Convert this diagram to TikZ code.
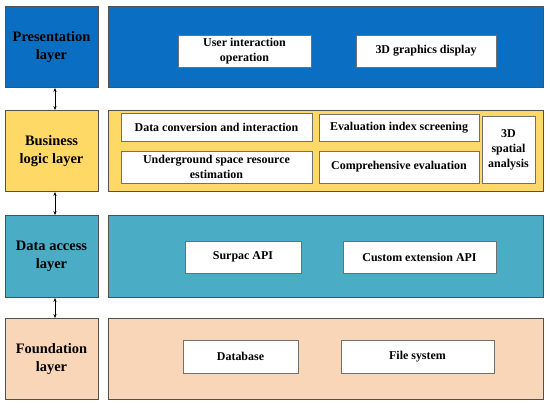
\documentclass[tikz,border=0pt]{standalone}
\usepackage{fontspec}
\setmainfont{Liberation Serif}
\usetikzlibrary{arrows.meta}
\definecolor{presblue}{HTML}{0A6FC2}
\definecolor{busyellow}{HTML}{FFD966}
\definecolor{datateal}{HTML}{4BACC6}
\definecolor{foundpeach}{HTML}{FAD6B9}
\definecolor{edgegray}{HTML}{505050}
\definecolor{inneredge}{HTML}{707070}
\begin{document}
\begin{tikzpicture}[x=1bp,y=-1bp,
  layerbox/.style={draw=edgegray, line width=0.9bp, inner sep=0pt, align=center,
    font=\fontsize{14.5}{18}\selectfont\bfseries},
  bandbox/.style={draw=edgegray, line width=0.9bp, inner sep=0pt},
  itembox/.style={draw=inneredge, fill=white, line width=0.9bp, inner sep=0pt, align=center,
    font=\fontsize{12}{15}\selectfont\bfseries},
  linkarrow/.style={{Stealth[length=4bp,width=3.2bp]}-{Stealth[length=4bp,width=3.2bp]}, line width=0.6bp, black}
]
\useasboundingbox (0,0) rectangle (550,407);
% left layer labels
\node[layerbox, fill=presblue, minimum width=93bp, minimum height=81bp] (pl) at (51.5,47) {Presentation\\layer};
\node[layerbox, fill=busyellow, minimum width=93bp, minimum height=81bp] (bl) at (51.5,151) {Business\\logic layer};
\node[layerbox, fill=datateal, minimum width=93bp, minimum height=82bp] (dl) at (51.5,256.5) {Data access\\layer};
\node[layerbox, fill=foundpeach, minimum width=93bp, minimum height=80.5bp] (fl) at (51.5,358.75) {Foundation\\layer};
% right bands
\node[bandbox, fill=presblue, minimum width=435bp, minimum height=81bp] (pb) at (325.5,47) {};
\node[bandbox, fill=busyellow, minimum width=435bp, minimum height=81bp] (bb) at (325.5,151) {};
\node[bandbox, fill=datateal, minimum width=435bp, minimum height=82bp] (db) at (325.5,256.5) {};
\node[bandbox, fill=foundpeach, minimum width=435bp, minimum height=80.5bp] (fb) at (325.5,358.75) {};
% items
\node[itembox, minimum width=133bp, minimum height=32bp] (uio) at (244.5,51) {User interaction\\operation};
\node[itembox, minimum width=140bp, minimum height=32bp] (gfx) at (426,51) {3D graphics display};
\node[itembox, minimum width=191bp, minimum height=28bp] (dci) at (216.5,127) {Data conversion and interaction};
\node[itembox, minimum width=191bp, minimum height=32bp] (usr) at (216.5,167) {Underground space resource\\estimation};
\node[itembox, minimum width=160bp, minimum height=27bp] (eis) at (399,127.5) {Evaluation index screening};
\node[itembox, minimum width=160bp, minimum height=32bp] (cev) at (399,167) {Comprehensive evaluation};
\node[itembox, minimum width=53bp, minimum height=67bp] (spa) at (508.5,149.5) {3D\\spatial\\analysis};
\node[itembox, minimum width=116bp, minimum height=32bp] (sapi) at (243,257) {Surpac API};
\node[itembox, minimum width=153bp, minimum height=32bp] (capi) at (419.5,257) {Custom extension API};
\node[itembox, minimum width=115bp, minimum height=33bp] (dbs) at (240.5,356.5) {Database};
\node[itembox, minimum width=153bp, minimum height=33bp] (fsys) at (417.5,356.5) {File system};
% arrows
\draw[linkarrow] ([xshift=3.5bp]pl.south) -- ([xshift=3.5bp]bl.north);
\draw[linkarrow] ([xshift=3.5bp]bl.south) -- ([xshift=3.5bp]dl.north);
\draw[linkarrow] ([xshift=3.5bp]dl.south) -- ([xshift=3.5bp]fl.north);
\end{tikzpicture}
\end{document}
